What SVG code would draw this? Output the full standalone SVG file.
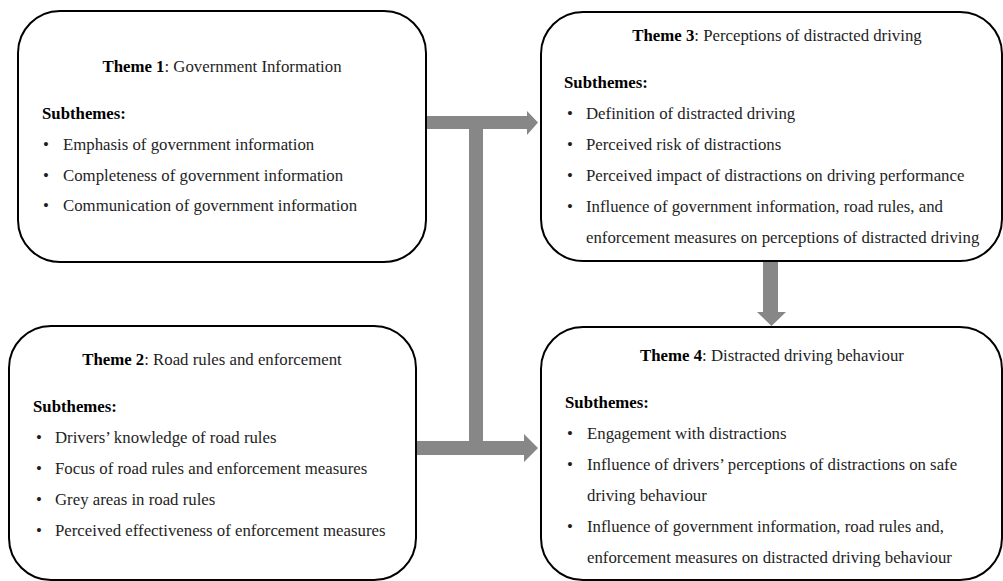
<svg xmlns="http://www.w3.org/2000/svg" width="1003" height="581" viewBox="0 0 1003 581">
<style>
.box{fill:#fff;stroke:#000;stroke-width:2}
text{font-family:"Liberation Serif","Times New Roman",serif;font-size:16.8px;fill:#1e1e1e}
.t{text-anchor:middle}
.b{font-weight:bold;fill:#000}
.arrow{fill:#878787;stroke:none}
</style>
<rect width="1003" height="581" fill="#fff"/>
<g id="connectors">
<path class="arrow" d="M426,116 H527 V111 L538,122.5 L527,135 V129 H426 Z"/>
<rect class="arrow" x="469" y="122" width="14" height="326"/>
<path class="arrow" d="M416,441 H524 V434 L538,448 L524,462 V455 H416 Z"/>
<path class="arrow" d="M763,261 H778 V312 H786 L771.5,326 L757,312 H763 Z"/>
</g>
<g id="theme1">
<rect class="box" x="18" y="11" width="408" height="251" rx="42" ry="42"/>
<text class="t" x="222" y="72"><tspan class="b">Theme 1</tspan>: Government Information</text>
<text class="b" x="42" y="119">Subthemes:</text>
<text x="43" y="150">•</text><text x="63" y="150">Emphasis of government information</text>
<text x="43" y="181">•</text><text x="63" y="181">Completeness of government information</text>
<text x="43" y="211">•</text><text x="63" y="211">Communication of government information</text>
</g>
<g id="theme2">
<rect class="box" x="9" y="326" width="407" height="254" rx="42" ry="42"/>
<text class="t" x="212" y="365"><tspan class="b">Theme 2</tspan>: Road rules and enforcement</text>
<text class="b" x="33" y="412">Subthemes:</text>
<text x="36" y="443">•</text><text x="55" y="443">Drivers’ knowledge of road rules</text>
<text x="36" y="474">•</text><text x="55" y="474">Focus of road rules and enforcement measures</text>
<text x="36" y="505">•</text><text x="55" y="505">Grey areas in road rules</text>
<text x="36" y="536">•</text><text x="55" y="536">Perceived effectiveness of enforcement measures</text>
</g>
<g id="theme3">
<rect class="box" x="541" y="12" width="461" height="249" rx="42" ry="42"/>
<text class="t" x="777" y="41"><tspan class="b">Theme 3</tspan>: Perceptions of distracted driving</text>
<text class="b" x="564" y="88">Subthemes:</text>
<text x="567" y="119">•</text><text x="586" y="119">Definition of distracted driving</text>
<text x="567" y="150">•</text><text x="586" y="150">Perceived risk of distractions</text>
<text x="567" y="181">•</text><text x="586" y="181">Perceived impact of distractions on driving performance</text>
<text x="567" y="212">•</text><text x="586" y="212">Influence of government information, road rules, and</text>
<text x="586" y="243">enforcement measures on perceptions of distracted driving</text>
</g>
<g id="theme4">
<rect class="box" x="541" y="327" width="461" height="253" rx="42" ry="42"/>
<text class="t" x="772" y="361"><tspan class="b">Theme 4</tspan>: Distracted driving behaviour</text>
<text class="b" x="565" y="408">Subthemes:</text>
<text x="567" y="439">•</text><text x="587" y="439">Engagement with distractions</text>
<text x="567" y="470">•</text><text x="587" y="470">Influence of drivers’ perceptions of distractions on safe</text>
<text x="587" y="501">driving behaviour</text>
<text x="567" y="532">•</text><text x="587" y="532">Influence of government information, road rules and,</text>
<text x="587" y="563">enforcement measures on distracted driving behaviour</text>
</g>
</svg>
